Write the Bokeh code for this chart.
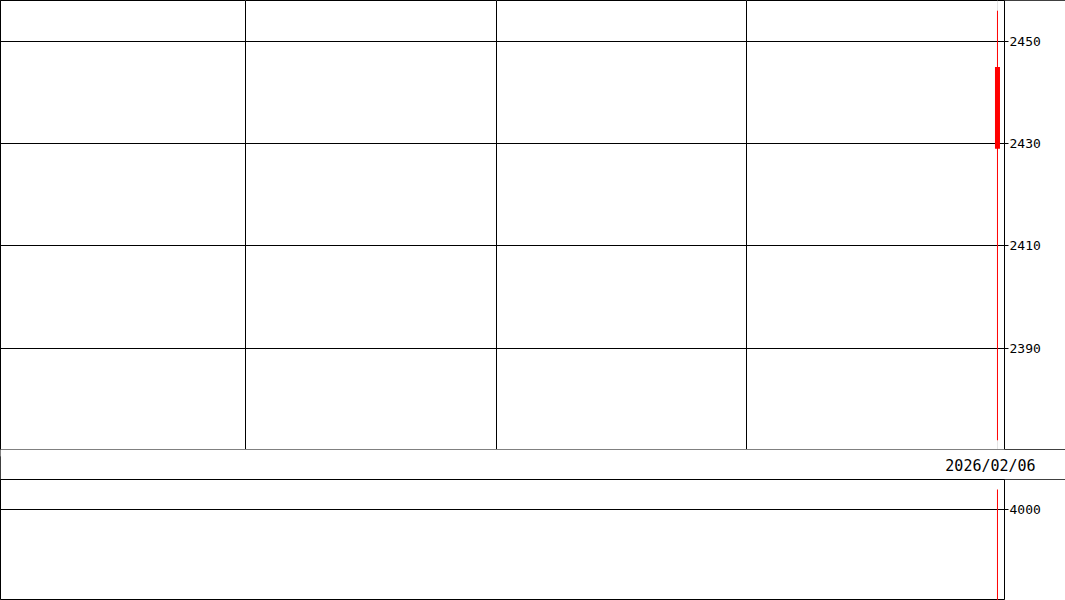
from bokeh.plotting import figure
from bokeh.layouts import column
from bokeh.models import Range1d, FixedTicker, Grid
from bokeh.embed import file_html
from bokeh.resources import INLINE

# one daily bar, placed at index 0 (the right end of the chart)
dates = ["2026/02/06"]
bar_index = [0]
opens = [2445]
highs = [2456]
lows = [2372]
closes = [2429]
volumes = [4880]

price_ticks = [2390, 2410, 2430, 2450]
volume_ticks = [4000]
grid_bars = [-150, -100, -50]

W = 1065
AXIS_W = 61
FONT = "DejaVu Sans Mono"
box = {"outline": "1px solid black", "outline-offset": "-1px"}

x_start, x_end = -198.9, 1.4
x_range = Range1d(x_start, x_end)
# date label sits a few pixels left of the bar
px_per_bar = (W - AXIS_W) / (x_end - x_start)
shift = 7 / px_per_bar
strip_range = Range1d(x_start + shift, x_end + shift)


def style_axis(p, ticks):
    ax = p.yaxis[0]
    ax.ticker = FixedTicker(ticks=ticks)
    ax.axis_line_color = None
    ax.major_tick_in = 0
    ax.major_tick_out = 4
    ax.major_tick_line_color = "black"
    ax.minor_tick_line_color = None
    ax.major_label_standoff = 1
    ax.major_label_text_font = FONT
    ax.major_label_text_font_size = "13px"
    ax.major_label_text_color = "black"
    p.ygrid.ticker = FixedTicker(ticks=ticks)
    p.ygrid.grid_line_color = "black"
    p.ygrid.grid_line_width = 1


# price panel
p = figure(width=W, height=450, x_range=x_range, y_range=Range1d(2370, 2458),
           output_backend="svg", toolbar_location=None,
           y_axis_location="right", x_axis_location=None,
           min_border_left=0, min_border_top=0, min_border_bottom=0,
           min_border_right=AXIS_W, styles=box)
p.outline_line_color = "black"
p.background_fill_color = "white"
p.border_fill_color = "white"
style_axis(p, price_ticks)
p.add_layout(Grid(dimension=0, ticker=FixedTicker(ticks=grid_bars),
                  grid_line_color="black", grid_line_width=1))

p.segment(bar_index, highs, bar_index, lows, color="red", line_width=1)
p.vbar(x=bar_index, width=1.0, top=opens, bottom=closes,
       fill_color="red", line_color=None)

# date strip: the bar's date as an x axis label
d = figure(width=W, height=31, x_range=strip_range, y_range=Range1d(0, 1),
           output_backend="svg", toolbar_location=None,
           x_axis_location="below", y_axis_location=None,
           min_border_left=0, min_border_top=0, min_border_bottom=24,
           min_border_right=AXIS_W, styles=box, margin=(-1, 0, 0, 0))
d.outline_line_color = None
d.xgrid.visible = False
d.ygrid.visible = False
d.border_fill_color = "white"
xa = d.xaxis[0]
xa.ticker = FixedTicker(ticks=bar_index)
xa.major_label_overrides = {i: t for i, t in zip(bar_index, dates)}
xa.axis_line_color = None
xa.major_tick_line_color = None
xa.minor_tick_line_color = None
xa.major_tick_in = 0
xa.major_tick_out = 0
xa.major_label_standoff = 0
xa.major_label_text_font = FONT
xa.major_label_text_font_size = "15px"
xa.major_label_text_color = "black"

# volume panel
v = figure(width=W, height=121, x_range=x_range, y_range=Range1d(0, 5319),
           output_backend="svg", toolbar_location=None,
           y_axis_location="right", x_axis_location=None,
           min_border_left=0, min_border_top=0, min_border_bottom=0,
           min_border_right=AXIS_W, styles=box, margin=(-1, 0, 0, 0))
v.outline_line_color = "black"
v.border_fill_color = "white"
v.xgrid.visible = False
style_axis(v, volume_ticks)
v.segment(bar_index, [0] * len(volumes), bar_index, volumes, color="red", line_width=1)

layout = column(p, d, v, spacing=0,
                styles={"position": "absolute", "left": "0px", "top": "0px"})

open("out.html", "w").write(file_html(layout, INLINE))
